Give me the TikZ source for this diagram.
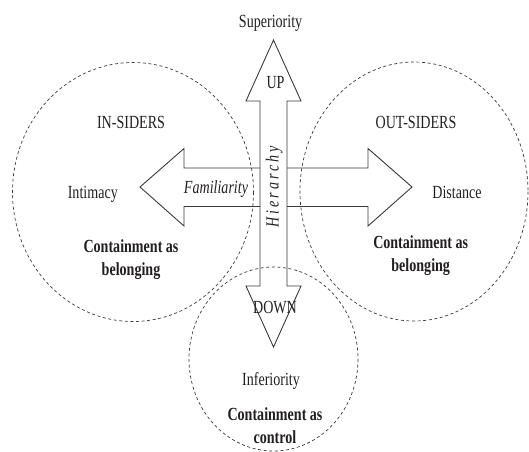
\documentclass[tikz,border=0pt]{standalone}
\usepackage{fontspec}
\setmainfont{Liberation Serif}[FakeStretch=0.76]
\definecolor{ink}{HTML}{231F20}
\definecolor{edge}{HTML}{3A3A3A}
\begin{document}
\begin{tikzpicture}[x=1pt,y=-1pt,
  lbl/.style={font=\fontsize{18.5}{23}\selectfont, text=ink, inner sep=0pt, anchor=base, align=center},
  blbl/.style={lbl, font=\fontsize{18.5}{23}\selectfont\bfseries},
  ilbl/.style={lbl, font=\fontsize{18.5}{23}\selectfont\itshape},
  zone/.style={draw=edge, line width=0.7pt, dash pattern=on 3pt off 2.6pt},
  arrowline/.style={draw=edge, line width=0.9pt, line join=miter}]
\useasboundingbox (0,0) rectangle (529,451);

% dashed zones
\draw[zone] (133,192) ellipse [x radius=120.5, y radius=129.5];
\draw[zone] (414,191.5) ellipse [x radius=114, y radius=129.5];
\draw[zone] (273.5,359) ellipse [x radius=84.5, y radius=92];

% vertical double arrow (Hierarchy)
\draw[arrowline] (260,286) -- (260,101) -- (246,101) -- (273.5,40) -- (301,101)
  -- (287,101) -- (287,286) -- (301,286) -- (273.5,347) -- (246,286) -- cycle;

% horizontal double arrow (Familiarity), interrupted by the vertical shaft
\draw[arrowline] (260,168) -- (184,168) -- (184,148.5) -- (140,187) -- (184,226)
  -- (184,206.5) -- (260,206.5);
\draw[arrowline] (287,168) -- (368,168) -- (368,148.5) -- (412,187) -- (368,226)
  -- (368,206.5) -- (287,206.5);

% labels
\node[lbl] (sup) at (270.6,27) {Superiority};
\node[lbl] (up) at (275.5,88.4) {UP};
\node[lbl] (ins) at (131,128) {IN-SIDERS};
\node[lbl] (outs) at (416,128) {OUT-SIDERS};
\node[lbl] (intim) at (92.8,198) {Intimacy};
\node[ilbl] (fam) at (216,193) {Familiarity};
\node[lbl] (dist) at (457,198) {Distance};
\node[ilbl, rotate=90, font=\fontsize{18.5}{23}\selectfont\itshape\addfontfeatures{LetterSpace=16}] (hier) at (278.5,187) {Hierarchy};
\node[blbl] (cbl) at (131,275.5) {Containment as\\belonging};
\node[blbl] (cbr) at (420.7,271.6) {Containment as\\belonging};
\node[lbl] (down) at (275,313.7) {DOWN};
\node[lbl] (inf) at (271,385.6) {Inferiority};
\node[blbl] (cc) at (275,443) {Containment as\\control};
\end{tikzpicture}
\end{document}
